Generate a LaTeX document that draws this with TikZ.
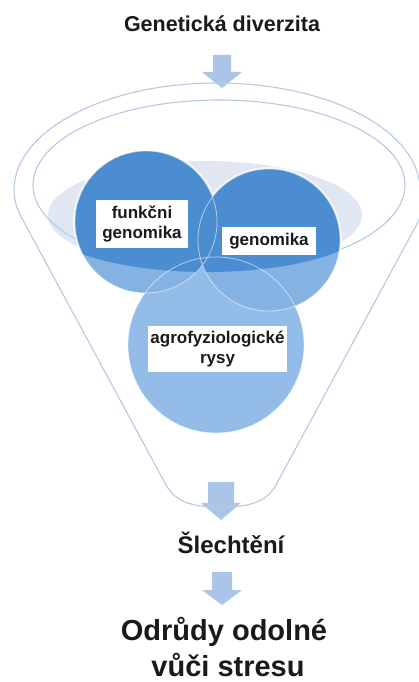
\documentclass[tikz,border=0pt]{standalone}
\usepackage{fontspec}
\setmainfont{Liberation Sans}
\definecolor{funnelc}{RGB}{182,202,226}
\definecolor{discc}{RGB}{224,230,242}
\definecolor{darkc}{RGB}{76,140,208}
\definecolor{lightc}{RGB}{132,178,227}
\definecolor{lowc}{RGB}{147,189,232}
\definecolor{arrowc}{RGB}{170,197,231}
\definecolor{inkc}{RGB}{26,26,26}
\begin{document}
\begin{tikzpicture}[x=1pt,y=-1pt,
  funnelline/.style={draw=funnelc, line width=1.1pt},
  blockarrow/.style={fill=arrowc, draw=none},
  labelbox/.style={fill=white, inner sep=0pt, text=inkc, align=center,
    font=\bfseries\fontsize{17}{20}\selectfont},
  heading/.style={inner sep=0pt, text=inkc, anchor=base}]
\useasboundingbox (0,0) rectangle (418,682);
\fill[white] (0,0) rectangle (418,682);

% title and the arrow feeding the funnel
\node[heading, font=\bfseries\fontsize{21.5}{26}\selectfont] (title) at (222,32) {Genetická diverzita};
\fill[blockarrow] (213,55) -- (231,55) -- (231,72) -- (242,72) -- (222,88) -- (202,72) -- (213,72) -- cycle;

% light disc inside the funnel mouth
\fill[discc] (205,215) ellipse (157 and 54);

% arrow leaving the funnel (partly behind its bottom)
\fill[blockarrow] (208,482) -- (234,482) -- (234,503) -- (241,503) -- (221,520) -- (201,503) -- (208,503) -- cycle;

% funnel outline
\draw[funnelline] (24,222) .. controls (19.5,214) and (14,204) .. (14,190)
  arc[start angle=180, end angle=360, x radius=203, y radius=107]
  .. controls (420,204) and (422.3,214) .. (418,222)
  -- (276,485) .. controls (265,505) and (243,507) .. (221,507)
  .. controls (199,507) and (177,505) .. (166,485) -- cycle;
\draw[funnelline] (219,185) ellipse (186 and 85);

% the three overlapping circles
\coordinate (cA) at (146,222);
\coordinate (cB) at (269,240);
\coordinate (cC) at (216,345);
\draw[white, line width=4pt, opacity=.7] (cA) circle (71) (cB) circle (71) (cC) circle (88);
\fill[lowc] (cC) circle (88);
\fill[lightc] (cA) circle (71) (cB) circle (71);
\begin{scope}
  \clip (207,220) ellipse (165 and 52);
  \fill[darkc] (cA) circle (71) (cB) circle (71);
\end{scope}
\begin{scope}
  \clip (0,0) rectangle (418,220);
  \fill[darkc] (cA) circle (71) (cB) circle (71);
\end{scope}
\draw[white, opacity=.55, line width=.8pt] (cA) circle (71) (cB) circle (71) (cC) circle (88);

% labels
\node[labelbox, minimum width=92pt, minimum height=48pt] (lfun) at (142,224) {funkčni\\genomika};
\node[labelbox, minimum width=94pt, minimum height=28pt] (lgen) at (269,241) {genomika};
\node[labelbox, minimum width=139pt, minimum height=46pt] (lagr) at (217.5,349) {agrofyziologické\\rysy};

% breeding and result
\node[heading, font=\bfseries\fontsize{24}{28}\selectfont] (breed) at (231,553) {Šlechtění};
\fill[blockarrow] (212,572) -- (232,572) -- (232,590) -- (242,590) -- (222,605) -- (202,590) -- (212,590) -- cycle;
\node[heading, font=\bfseries\fontsize{29}{36}\selectfont] (res1) at (224,640) {Odrůdy odolné};
\node[heading, font=\bfseries\fontsize{29}{36}\selectfont] (res2) at (228,676) {vůči stresu};
\end{tikzpicture}
\end{document}
